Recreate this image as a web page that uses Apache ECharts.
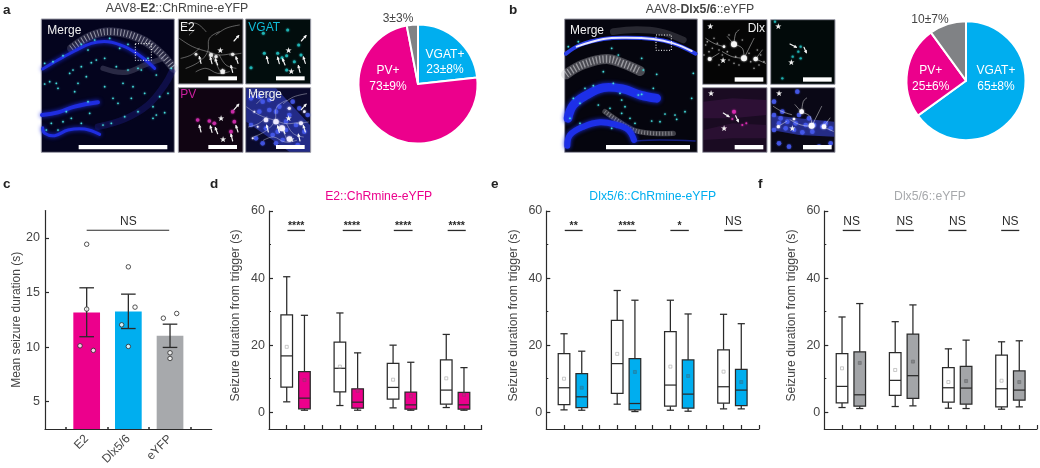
<!DOCTYPE html>
<html><head><meta charset="utf-8">
<style>html,body{margin:0;padding:0;background:#fff}#c{width:1040px;height:468px;filter:blur(0.35px)}</style>
<script src="https://cdn.jsdelivr.net/npm/echarts@6/dist/echarts.min.js"></script>
</head><body><div id="c"></div>
<script>
// ---------- data ----------
const colors = {pink:'#ec008c', blue:'#00aeef', gray:'#a7a9ac', pieGray:'#808285', text:'#454545', ink:'#2a2a2a'};
const pieANames = ['VGAT+','PV+',''];
const pieAValues = [23,73,3];
const pieALabels = ['VGAT+\n23±8%','PV+\n73±9%','3±3%'];
const pieBNames = ['VGAT+','PV+',''];
const pieBValues = [65,25,10];
const pieBLabels = ['VGAT+\n65±8%','PV+\n25±6%','10±7%'];

const cCategories = ['E2','Dlx5/6','eYFP'];
const cMeans = [13.17,13.27,11.03];
const cErrLow = [10.95,11.7,9.97];
const cErrHigh = [15.43,14.85,12.1];
const cPoints = [[1,19.42],[1,13.48],[0.84,10.12],[1.16,9.7],[2,17.35],[2.16,13.66],[1.84,12.04],[2,10.06],[2.84,12.65],[3.16,13.08],[3,9.48],[3,8.96]];

// [min, Q1, median, Q3, max, mean]
const dCtrl = [[3.1,7.5,16.8,29,40.4,19.5],[2,6.1,13.1,20.9,29.6,13.6],[1.3,3.9,7.4,14.6,20,9.7],[1.4,2.4,6.6,15.6,23.2,10.1]];
const dTreat = [[0.6,1,4.2,12.1,28.9,9.6],[0.6,1.2,3,7,17.7,6.4],[0.6,0.9,2.2,6,14.9,4.8],[0.6,0.9,2.2,5.9,13.3,5.2]];
const eCtrl = [[0.7,2.3,7.3,17.5,23.4,10],[2.4,5.6,14.5,27.4,36.3,17.4],[0.6,1.8,8.1,24,33.4,13.6],[1,2.7,7.6,18.6,29.2,12.1]];
const eTreat = [[0.6,1.4,4.6,11.5,18.2,7.3],[0.2,0.7,2.6,16,33.4,12],[0.3,1.2,5.4,15.6,29.3,10.8],[1,2,6.6,12.8,26.4,9]];
const fCtrl = [[1.4,2.8,7.7,17.5,28.4,13.1],[1.7,5,9.5,17.8,27,12.6],[1.2,3,7.3,13.3,18.9,9],[0.9,1.6,7,17,21,9.4]];
const fTreat = [[1.1,1.8,5.2,18,32.4,14.7],[1.9,4.1,10.9,23.3,32,15.1],[1.1,2.4,7.2,13.7,21.5,9.3],[1.6,3.6,6.6,12.3,21.3,9]];
const ctrlX = [1,4,7,10];
const treatX = [2,5,8,11];
const dSig = [[1.04,2.03,'****'],[4.16,5.2,'****'],[7.04,8.1,'****'],[10.08,11.1,'****']];
const eSig = [[1.04,2.05,'**'],[4.01,5.07,'****'],[7,8.04,'*'],[10.04,11.07,'NS']];
const fSig = [[1.04,2.05,'NS'],[4.03,5.05,'NS'],[7,8.02,'NS'],[9.98,11,'NS']];
const yTicks = [0,20,40,60];
const yMinor = [10,30,50];
const xTicks = [1,2,3,4,5,6,7,8,9,10,11,12];

// micrograph texture, in units of a 3x enlarged crop of each image block
const aCyan = [[20,145],[45,140],[75,122],[130,88],[170,75],[215,70],[245,100],[270,88],[150,105],[175,135],[200,130],[235,155],[270,165],[300,160],[130,155],[160,143],[35,200],[55,205],[20,207],[105,165],[95,175],[145,185],[120,205],[110,230],[60,220],[200,215],[255,205],[285,215],[225,250],[240,265],[280,250],[320,235],[365,245],[390,235],[345,275],[300,290],[260,305],[220,325],[195,330],[155,295],[130,325],[100,310],[75,320],[40,325],[25,345],[85,290],[150,260],[60,345],[380,293],[345,310],[355,300],[310,165],[330,130],[355,180],[400,160]];
const bCyan = [[25,95],[55,80],[155,100],[175,120],[250,165],[290,178],[130,170],[245,130],[400,175],[75,220],[100,212],[40,250],[60,265],[115,270],[160,205],[235,240],[245,238],[180,235],[185,255],[195,275],[150,280],[185,295],[210,310],[225,325],[275,318],[300,320],[315,297],[350,313],[375,290],[345,300],[60,325],[155,340],[30,310],[395,250],[280,220]];
const aArrows = [[75,145,70,125],[108,146,103,127],[125,150,118,132],[170,172,165,152],[186,145,180,126],[174,78,188,62]];
const aVgat = [[265,115],[305,115],[318,128],[332,122],[332,165],[375,120],[368,90],[225,158],[335,45],[262,55],[355,140]];
const aPv = [[65,315],[100,318],[115,325],[170,290],[175,320],[165,350]];
const aStreaks = [[[10,70],[50,95],[95,110],[130,120],[170,115]],[[30,160],[70,140],[95,110],[100,70],[130,50]],[[120,60],[150,40],[190,30]],[[15,130],[45,120],[70,100]],[[60,170],[90,160],[125,175],[160,170]],[[130,120],[150,150],[180,160]],[[20,30],[60,25],[90,50]],[[160,120],[195,115]],[[100,110],[115,135],[130,165]],[[40,60],[55,45]]];
const aBlobs = [[340,280,5],[300,320,8],[318,340,9],[270,315,7],[375,325,6],[340,372,8],[235,290,3],[245,335,3],[230,370,3],[385,290,4]];
const aBlue = [[225,250],[250,245],[280,255],[310,275],[340,300],[360,330],[300,290],[270,340],[290,360],[330,345],[250,290],[350,260],[385,350],[300,385],[260,385],[225,330],[395,300],[320,375],[365,390],[240,370],[280,285],[330,320],[305,350],[260,260],[370,280]];
const aHaze = [[211,220],[300,220],[402,330],[402,410],[340,410],[211,320]];
const bSoma = [[105,88,9],[135,130,9],[170,132,7],[32,132,6],[75,95,4]];
const bBlue = [[225,300],[245,310],[265,320],[290,325],[320,330],[345,330],[370,335],[395,340],[240,325],[260,340],[285,345],[310,352],[340,350],[380,325],[225,260],[295,230],[240,385],[270,395],[360,395],[395,385],[250,290],[300,300],[225,345],[330,310]];
const bHaze = [[217,300],[300,310],[406,320],[406,365],[300,360],[217,345]];
const bWhiteSoma = [[308,290,7],[338,332,9],[375,335,7],[238,335,5],[285,312,4]];
const bNeurites = [[[105,88],[110,55],[120,45]],[[105,88],[85,65]],[[105,88],[130,100],[135,130]],[[135,130],[155,90],[165,70]],[[170,132],[190,105]],[[75,95],[45,85],[20,70]],[[135,130],[100,125],[70,110]],[[32,132],[60,115]],[[170,132],[200,145]]];
const bSpeckle = [[20,90],[40,100],[55,85],[30,110],[70,120],[90,135],[110,125],[150,115],[185,120],[195,140],[165,160],[120,150],[60,150],[15,120],[45,70],[130,75],[90,60],[25,80],[60,105],[155,140],[180,150],[105,145],[85,110],[175,105]];

// ---------- helpers ----------
const FONT = '"Liberation Sans", Arial, sans-serif';
function rect(x,y,w,h,fill,stroke){return {type:'rect',shape:{x,y,width:w,height:h},style:{fill,stroke:stroke||null,lineWidth:stroke?3:0},silent:true};}
function poly(points,stroke,lineWidth,smooth,blur,dash){return {type:'polyline',shape:{points,smooth:smooth===undefined?0.4:smooth},style:{stroke,lineWidth,fill:null,lineCap:dash?'butt':'round',lineJoin:'round',lineDash:dash||null,shadowBlur:blur||0,shadowColor:stroke},silent:true};}
function haze(points,fill){return {type:'polygon',shape:{points},style:{fill},silent:true};}
function dots(list,fill,r,dx,dy){return list.map(p=>({type:'circle',shape:{cx:p[0]+(dx||0),cy:p[1]+(dy||0),r:p[2]||r},style:{fill,shadowBlur:2,shadowColor:fill},silent:true}));}
function label(text,x,y,fill,size,align){return {type:'text',x,y,style:{text,fill,font:(size||36)+'px '+FONT,textAlign:align||'left',textVerticalAlign:'middle'},silent:true};}
function star(x,y){return {type:'text',x,y,style:{text:'★',fill:'#f2f2f2',font:'24px "DejaVu Sans"',textAlign:'center',textVerticalAlign:'middle'},silent:true};}
function arrow(a,dx,dy){
  const [x1,y1,x2,y2]=a; const vx=x2-x1,vy=y2-y1,l=Math.hypot(vx,vy),ux=vx/l,uy=vy/l,s=7;
  const hx=x2+dx,hy=y2+dy;
  return [poly([[x1+dx,y1+dy],[hx,hy]],'#f5f5f5',3.5,0),
    {type:'polygon',shape:{points:[[hx+ux*3,hy+uy*3],[hx-ux*s-uy*s*.7,hy-uy*s+ux*s*.7],[hx-ux*s+uy*s*.7,hy-uy*s-ux*s*.7]]},style:{fill:'#f5f5f5'},silent:true}];
}
function block(x,y,children){return {type:'group',x,y,scaleX:1/3,scaleY:1/3,silent:true,children};}
const BORDER='#9c9ca8';

const graphicA = block(38,15,[
  rect(10,12,399,400,'#04041e',BORDER),
  poly([[100,100],[160,62],[220,50],[300,68],[360,108],[407,160]],'rgba(170,170,200,.22)',26),
  poly([[100,100],[160,62],[220,50],[300,68],[360,108],[407,160]],'rgba(225,225,235,.6)',20,.4,0,[3,7]),
  poly([[195,160],[260,172],[320,150],[370,132]],'rgba(190,190,220,.2)',16),
  poly([[180,335],[260,312],[330,270],[380,210],[402,170]],'rgba(35,35,150,.35)',20),
  poly([[14,162],[60,135],[110,108],[160,85],[210,80],[260,95],[310,125],[350,160]],'#1f2de0',9,.4,4),
  poly([[12,300],[60,292],[110,275],[180,262]],'#1f2de0',12,.4,4),
  poly([[14,338],[20,355],[50,362],[90,345],[140,342],[185,358]],'#1f2de0',9,.4,4),
  ...dots(aCyan,'#45dede',2.6),
  {type:'rect',shape:{x:292,y:86,width:48,height:50},style:{fill:null,stroke:'#fff',lineWidth:3,lineDash:[3,5]},silent:true},
  rect(122,390,266,13,'#fff'),
  label('Merge',28,47,'#efefef')
]);
const streaks=(dx,dy,c)=>aStreaks.map(s=>poly(s.map(p=>[p[0]+dx,p[1]+dy]),c,2.5));
const arrowsAt=(dx,dy)=>aArrows.flatMap(a=>arrow(a,dx,dy));
const graphicASmall = block(176,15,[
  rect(7,12,194,195,'#0a0a0a',BORDER),
  ...streaks(0,0,'rgba(200,200,200,.55)'),
  ...dots([[105,120,6],[120,125,5],[170,118,5],[60,118,4],[140,170,7]],'#e8e8e8',5),
  ...arrowsAt(0,0),star(133,107),star(140,172),
  rect(97,184,86,12,'#fff'),label('E2',12,39,'#f0f0f0'),

  rect(209,12,195,195,'#020d0d',BORDER),
  ...dots(aVgat,'#1fb4b4',4.5),
  ...arrowsAt(202,0),star(338,107),star(346,170),
  rect(300,184,86,12,'#fff'),label('VGAT',217,39,'#10bcd8'),

  rect(7,218,194,194,'#100412',BORDER),
  ...dots(aPv,'#c82ba6',5.5),
  ...arrowsAt(0,206),star(135,312),star(141,374),
  rect(97,390,86,12,'#fff'),label('PV',13,240,'#cc1fa0'),

  rect(209,218,195,194,'#0a0a2c',BORDER),
  haze(aHaze,'rgba(60,75,225,.5)'),
  ...dots(aBlue,'rgba(70,90,240,.8)',7),
  ...streaks(202,206,'rgba(220,220,225,.5)'),
  ...dots(aBlobs,'#eeeaff',5),
  ...arrowsAt(202,206),star(338,313),star(346,376),
  rect(300,390,86,12,'#fff'),label('Merge',216,240,'#f0f0f0')
]);
const graphicB = block(560,15,[
  rect(14,12,398,400,'#05050e',BORDER),
  poly([[18,178],[70,148],[140,132],[190,146],[240,168]],'rgba(200,200,205,.35)',30),
  poly([[18,178],[70,148],[140,132],[190,146],[240,168]],'rgba(235,235,240,.5)',22,.4,0,[4,6]),
  poly([[135,290],[170,315],[220,345],[280,355],[340,355]],'rgba(215,215,220,.28)',16),
  poly([[135,290],[170,315],[220,345],[280,355],[340,355]],'rgba(235,235,240,.4)',12,.4,0,[3,6]),
  poly([[160,50],[230,44],[300,50],[370,75]],'rgba(200,200,210,.18)',20),
  poly([[18,116],[60,90],[130,72],[200,68],[280,72],[340,85],[407,116]],'#2a3ee6',12),
  poly([[50,95],[130,72],[200,68],[280,72],[340,85],[395,108]],'rgba(240,240,255,.95)',6),
  poly([[24,310],[40,270],[80,240],[130,218],[190,222],[240,240],[290,250]],'#1d2fe8',26,.4,4),
  poly([[22,392],[30,360],[70,335],[120,322],[170,330],[205,345],[222,375]],'#1d2fe8',18,.4,4),
  poly([[225,378],[300,375],[405,378]],'rgba(30,45,200,.6)',5),
  ...dots(bCyan,'#45dede',2.6),
  {type:'rect',shape:{x:288,y:60,width:46,height:46},style:{fill:null,stroke:'#fff',lineWidth:3,lineDash:[3,5]},silent:true},
  rect(138,390,252,13,'#fff'),
  label('Merge',30,47,'#efefef')
]);
const graphicBSmall = block(699,15,[
  rect(11,14,193,194,'#050505',BORDER),
  ...dots(bSpeckle,'rgba(215,215,215,.65)',2.5),
  ...bNeurites.map(n=>poly(n,'rgba(225,225,225,.6)',2.5)),
  ...dots(bSoma,'#f7f7f7',6),
  star(34,35),star(72,138),
  rect(107,187,86,13,'#fff'),label('Dlx',198,40,'#f0f0f0',36,'right'),

  rect(215,14,193,194,'#020a0a',BORDER),
  ...dots([[305,95],[298,110],[281,125],[305,130],[228,20],[250,190]],'#1fb0b0',3.5),
  ...arrow([273,87,292,97],0,0),...arrow([315,97,322,113],0,0),
  star(238,35),star(277,144),
  rect(312,187,86,13,'#fff'),

  rect(11,218,193,194,'#1a0b22',BORDER),
  haze([[13,260],[100,250],[202,255],[202,300],[100,310],[13,310]],'rgba(90,30,100,.3)'),
  haze([[13,345],[100,325],[202,330],[202,370],[100,370],[13,375]],'rgba(90,30,100,.25)'),
  ...dots([[105,290,6],[100,312,3],[130,330,3],[78,340,2],[142,325,3]],'#d82bb0',3),
  ...arrow([73,294,90,305],0,0),...arrow([110,302,118,320],0,0),
  star(36,238),star(75,343),
  rect(107,390,86,13,'#fff'),

  rect(215,218,193,194,'#0a0816',BORDER),
  haze(bHaze,'rgba(60,75,225,.55)'),
  ...dots(bBlue,'rgba(70,90,240,.85)',7),
  ...bNeurites.map(n=>poly(n.map(p=>[p[0]+203,p[1]+204]),'rgba(230,230,230,.6)',2.5)),
  ...dots(bWhiteSoma,'#fbfbff',6),
  star(240,238),star(280,343),
  rect(312,390,86,13,'#fff')
]);

// ---------- chart helpers ----------
const axisLine={onZero:false,lineStyle:{color:colors.ink,width:1.2}};
function boxSeries(gridIdx,rows,xs,fill,meanColor,meanFill){
  const data=rows.map((r,i)=>[xs[i],...r]);
  return [{
    type:'custom',xAxisIndex:gridIdx,yAxisIndex:gridIdx*2,clip:false,data,
    encode:{x:0,y:[1,5]},silent:true,
    renderItem(p,api){
      const x=api.value(0),pt=v=>api.coord([x,v]);
      const [cx,yMin]=pt(api.value(1)),yQ1=pt(api.value(2))[1],yMed=pt(api.value(3))[1],yQ3=pt(api.value(4))[1],yMax=pt(api.value(5))[1];
      const hw=5.8,cap=3.6,ln={stroke:colors.ink,lineWidth:1.25,fill:null};
      const L=(x1,y1,x2,y2)=>({type:'line',shape:{x1,y1,x2,y2},style:ln});
      return {type:'group',children:[
        L(cx,yMax,cx,yQ3),L(cx,yQ1,cx,yMin),L(cx-cap,yMax,cx+cap,yMax),L(cx-cap,yMin,cx+cap,yMin),
        {type:'rect',shape:{x:cx-hw,y:yQ3,width:hw*2,height:yQ1-yQ3},style:{fill,stroke:colors.ink,lineWidth:1.25}},
        L(cx-hw,yMed,cx+hw,yMed)
      ]};
    }
  },{
    type:'scatter',xAxisIndex:gridIdx,yAxisIndex:gridIdx*2,silent:true,symbol:'rect',symbolSize:3,
    data:rows.map((r,i)=>[xs[i],r[5]]),itemStyle:{color:meanFill,borderColor:meanColor,borderWidth:0.8},z:5
  }];
}
function sigSeries(gridIdx,rows){
  return {
    type:'custom',xAxisIndex:gridIdx,yAxisIndex:gridIdx*2,clip:false,silent:true,
    data:rows.map(r=>[r[0],r[1],54.2]),encode:{x:[0,1],y:2},
    renderItem(p,api){
      const a=api.coord([api.value(0),api.value(2)]),b=api.coord([api.value(1),api.value(2)]);
      const t=rows[p.dataIndex][2],isNS=t==='NS';
      return {type:'group',children:[
        {type:'line',shape:{x1:a[0],y1:a[1],x2:b[0],y2:a[1]},style:{stroke:colors.ink,lineWidth:1.3}},
        {type:'text',x:(a[0]+b[0])/2,y:a[1]-(isNS?8.5:4),style:{text:t,fill:colors.ink,font:(isNS?'12px ':'bold 10.5px ')+FONT,textAlign:'center',textVerticalAlign:'middle'}}
      ]};
    }
  };
}
function boxGrid(left){return {left,top:211,width:212.7,height:218};}
function boxX(i){return {type:'value',gridIndex:i,min:0,max:12,axisLine,splitLine:{show:false},axisLabel:{show:false},
  axisTick:{show:true,inside:true,length:4,customValues:xTicks,lineStyle:{color:colors.ink,width:1.2}}};}
function boxY(i){return [{type:'value',gridIndex:i,min:-5,max:60,name:'Seizure duration from trigger (s)',nameLocation:'middle',nameGap:27,
    nameTextStyle:{color:colors.text,fontSize:12.2,fontFamily:FONT,padding:[0,0,0,9]},
    axisLine:{show:true,...axisLine},splitLine:{show:false},
    axisLabel:{customValues:yTicks,color:colors.text,fontSize:12.5,fontFamily:FONT,margin:4},
    axisTick:{show:true,inside:true,length:4,customValues:yTicks,lineStyle:{color:colors.ink,width:1.2}}},
   {type:'value',gridIndex:i,min:-5,max:60,position:'left',axisLine:{show:false},splitLine:{show:false},axisLabel:{show:false},
    axisTick:{show:true,inside:true,length:2,customValues:yMinor,lineStyle:{color:colors.ink,width:1}}}];}
function ttl(text,x,y,color,size,rich,weight){return {text,left:x,top:y,textAlign:'center',padding:0,textStyle:{color,fontSize:size,fontFamily:FONT,fontWeight:weight||'normal',rich}};}
function letter(t,x,y){return {text:t,left:x,top:y,padding:0,textStyle:{color:'#222',fontSize:13.5,fontWeight:'bold',fontFamily:FONT}};}
function pie(center,values,names,labels,positions){
  return {type:'pie',center,radius:59.5,startAngle:90,clockwise:true,silent:true,animation:false,
    data:values.map((v,i)=>({value:v,name:names[i],itemStyle:{color:[colors.blue,colors.pink,colors.pieGray][i]},
      label:{formatter:labels[i],color:i===2?colors.text:'#fff'}})),
    itemStyle:{borderColor:'#fff',borderWidth:2},
    label:{show:true,position:'inside',fontSize:12,lineHeight:15.5,fontFamily:FONT,align:'center'},
    labelLine:{show:false},
    labelLayout(p){const q=positions[p.dataIndex];return {x:q[0],y:q[1],align:'center',verticalAlign:'middle'};}
  };
}

const richA={r:{fontSize:12.3,color:colors.text,fontFamily:FONT},b:{fontSize:12.3,fontWeight:'bold',color:colors.text,fontFamily:FONT}};

const option={
  animation:false,
  backgroundColor:'#fff',
  title:[
    letter('a',3,3),letter('b',509,3),letter('c',3,177),letter('d',210,177),letter('e',491,177),letter('f',758,177),
    ttl('{r|AAV8-}{b|E2}{r|::ChRmine-eYFP}',177,3,colors.text,12.3,richA),
    ttl('{r|AAV8-}{b|Dlx5/6}{r|::eYFP}',700,4,colors.text,12.3,richA),
    ttl('E2::ChRmine-eYFP',378.7,191,colors.pink,12.2),
    ttl('Dlx5/6::ChRmine-eYFP',652.7,191,colors.blue,12.2),
    ttl('Dlx5/6::eYFP',930,191,colors.gray,12.2)
  ],
  graphic:[graphicA,graphicASmall,graphicB,graphicBSmall],
  grid:[boxGrid(269),boxGrid(546.3),boxGrid(824.3),{left:45,top:210.6,width:166.7,height:218.4}],
  xAxis:[boxX(0),boxX(1),boxX(2),
    {type:'value',gridIndex:3,min:0,max:4,axisLine,splitLine:{show:false},
     axisTick:{show:true,inside:true,length:2,customValues:[0.5,1.5,2.5,3.5],lineStyle:{color:colors.ink,width:1.5}},
     axisLabel:{customValues:[1,2,3],formatter:v=>cCategories[Math.round(v)-1],rotate:45,color:colors.text,fontSize:12,fontFamily:FONT,margin:8}}],
  yAxis:[...boxY(0),...boxY(1),...boxY(2),
    {type:'value',gridIndex:3,min:2.5,max:22.5,name:'Mean seizure duration (s)',nameLocation:'middle',nameGap:22,
     nameTextStyle:{color:colors.text,fontSize:12,fontFamily:FONT},
     axisLine:{show:true,...axisLine},splitLine:{show:false},
     axisLabel:{customValues:[5,10,15,20],color:colors.text,fontSize:12.5,fontFamily:FONT,margin:5},
     axisTick:{show:true,inside:true,length:4,customValues:[5,10,15,20],lineStyle:{color:colors.ink,width:1.2}}}],
  series:[
    pie([418,84],pieAValues,pieANames,pieALabels,[[445,62],[388,78.5],[398,18.7]]),
    pie([966,80.7],pieBValues,pieBNames,pieBLabels,[[996,78.5],[930.7,78.5],[930,20]]),
    ...boxSeries(0,dCtrl,ctrlX,'#fff','#aaa','rgba(255,255,255,0)'),
    ...boxSeries(0,dTreat,treatX,colors.pink,'#a02a70','rgba(160,60,120,.5)'),
    sigSeries(0,dSig),
    ...boxSeries(1,eCtrl,ctrlX,'#fff','#aaa','rgba(255,255,255,0)'),
    ...boxSeries(1,eTreat,treatX,colors.blue,'#2a7a9a','rgba(40,120,150,.6)'),
    sigSeries(1,eSig),
    ...boxSeries(2,fCtrl,ctrlX,'#fff','#aaa','rgba(255,255,255,0)'),
    ...boxSeries(2,fTreat,treatX,'#a3a5a8','#6d6f72','rgba(110,110,115,.7)'),
    sigSeries(2,fSig),
    {type:'bar',xAxisIndex:3,yAxisIndex:6,barWidth:26.7,silent:true,
     data:cMeans.map((v,i)=>({value:[i+1,v],itemStyle:{color:[colors.pink,colors.blue,colors.gray][i]}}))},
    {type:'custom',xAxisIndex:3,yAxisIndex:6,silent:true,clip:false,z:4,
     data:cMeans.map((v,i)=>[i+1,cErrLow[i],cErrHigh[i]]),encode:{x:0,y:[1,2]},
     renderItem(p,api){
       const a=api.coord([api.value(0),api.value(1)]),b=api.coord([api.value(0),api.value(2)]),s={stroke:colors.ink,lineWidth:1.3};
       const c=7.3;
       return {type:'group',children:[
         {type:'line',shape:{x1:a[0],y1:a[1],x2:b[0],y2:b[1]},style:s},
         {type:'line',shape:{x1:a[0]-c,y1:a[1],x2:a[0]+c,y2:a[1]},style:s},
         {type:'line',shape:{x1:a[0]-c,y1:b[1],x2:a[0]+c,y2:b[1]},style:s}]};
     }},
    {type:'scatter',xAxisIndex:3,yAxisIndex:6,silent:true,symbolSize:4.5,z:5,data:cPoints,
     itemStyle:{color:'#fff',borderColor:colors.ink,borderWidth:1}},
    {type:'custom',xAxisIndex:3,yAxisIndex:6,silent:true,clip:false,data:[[1,2.98,20.7,'NS']],encode:{x:[0,1],y:2},
     renderItem(p,api){
       const a=api.coord([api.value(0),api.value(2)]),b=api.coord([api.value(1),api.value(2)]);
       return {type:'group',children:[
         {type:'line',shape:{x1:a[0],y1:a[1],x2:b[0],y2:a[1]},style:{stroke:colors.ink,lineWidth:1.2}},
         {type:'text',x:128.3,y:a[1]-8.5,style:{text:'NS',fill:colors.ink,font:'12px '+FONT,textAlign:'center',textVerticalAlign:'middle'}}
       ]};
     }}
  ]
};
echarts.init(document.getElementById('c'),null,{renderer:'canvas'}).setOption(option);
</script></body></html>
